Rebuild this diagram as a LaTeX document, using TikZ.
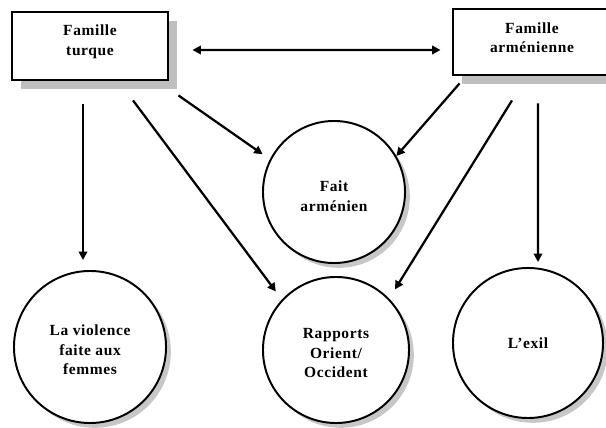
\documentclass[tikz,border=0pt]{standalone}
\usepackage{fontspec}
\setmainfont{Liberation Serif}
\usetikzlibrary{arrows.meta, shadows}

% text block moved up or down inside its shape
\newcommand{\movetext}[2]{\raisebox{#1}[\height][\depth]{\begin{tabular}{@{}c@{}}#2\end{tabular}}}

\tikzset{
  >={Triangle[length=6pt,width=6pt]},
  famille/.style={draw, line width=2pt, fill=white, minimum width=3.9cm,
    minimum height=1.7cm, inner sep=0pt,
    font=\fontsize{11}{14}\selectfont\bfseries\addfontfeature{LetterSpace=4},
    drop shadow={shadow xshift=0.22cm, shadow yshift=-0.22cm, fill=black!25, opacity=1}},
  theme/.style={draw, circle, line width=1.4pt, fill=white, inner sep=0pt,
    font=\fontsize{11}{14}\selectfont\bfseries\addfontfeature{LetterSpace=4},
    drop shadow={shadow xshift=0.12cm, shadow yshift=-0.12cm, fill=black!22, opacity=1}},
  link/.style={line width=1.6pt, ->},
}

\begin{document}
\begin{tikzpicture}[x=0.025cm, y=0.025cm]
\useasboundingbox (0,0) rectangle (606,428);

% Nodes
\node[famille] (turque) at (90,382) {\movetext{3.2pt}{Famille\\turque}};
\node[famille, minimum width=3.95cm, minimum height=1.65cm] (armenienne) at (532,386) {\movetext{2pt}{Famille\\arménienne}};
\node[theme, minimum size=3.55cm] (fait) at (334,236) {\movetext{-4.2pt}{Fait\\arménien}};
\node[theme, minimum size=3.8cm] (violence) at (90,81) {\movetext{-3pt}{La violence\\faite aux\\femmes}};
\node[theme, minimum size=3.65cm] (rapports) at (336,78) {\movetext{-3pt}{Rapports\\Orient/\\Occident}};
\node[theme, minimum size=3.75cm] (exil) at (528,85) {L’exil};

% Links
\draw[link, <->] ([xshift=0.575cm, yshift=-0.1cm]turque.east) -- ([xshift=-0.275cm, yshift=-0.2cm]armenienne.west); % turque <-> armenienne
\draw[link] ([xshift=-0.175cm, yshift=-0.575cm]turque.south) -- ([xshift=-0.175cm, yshift=0.25cm]violence.north); % turque --> violence
\draw[link, shorten >=0.22cm] ([xshift=0.225cm, yshift=-0.35cm]turque.south east) -- (fait.153); % turque --> fait
\draw[link, shorten >=0.25cm] ([xshift=1.075cm, yshift=-0.475cm]turque.south) -- (rapports.137); % turque --> rapports
\draw[link] ([xshift=0.2cm, yshift=-0.175cm]armenienne.south west) -- (fait.30); % armenienne --> fait
\draw[link, shorten >=0.27cm] ([xshift=-0.5cm, yshift=-0.6cm]armenienne.south) -- (rapports.44); % armenienne --> rapports
\draw[link] ([xshift=0.15cm, yshift=-0.675cm]armenienne.south) -- ([xshift=0.25cm, yshift=0.125cm]exil.north); % armenienne --> exil

\end{tikzpicture}
\end{document}
